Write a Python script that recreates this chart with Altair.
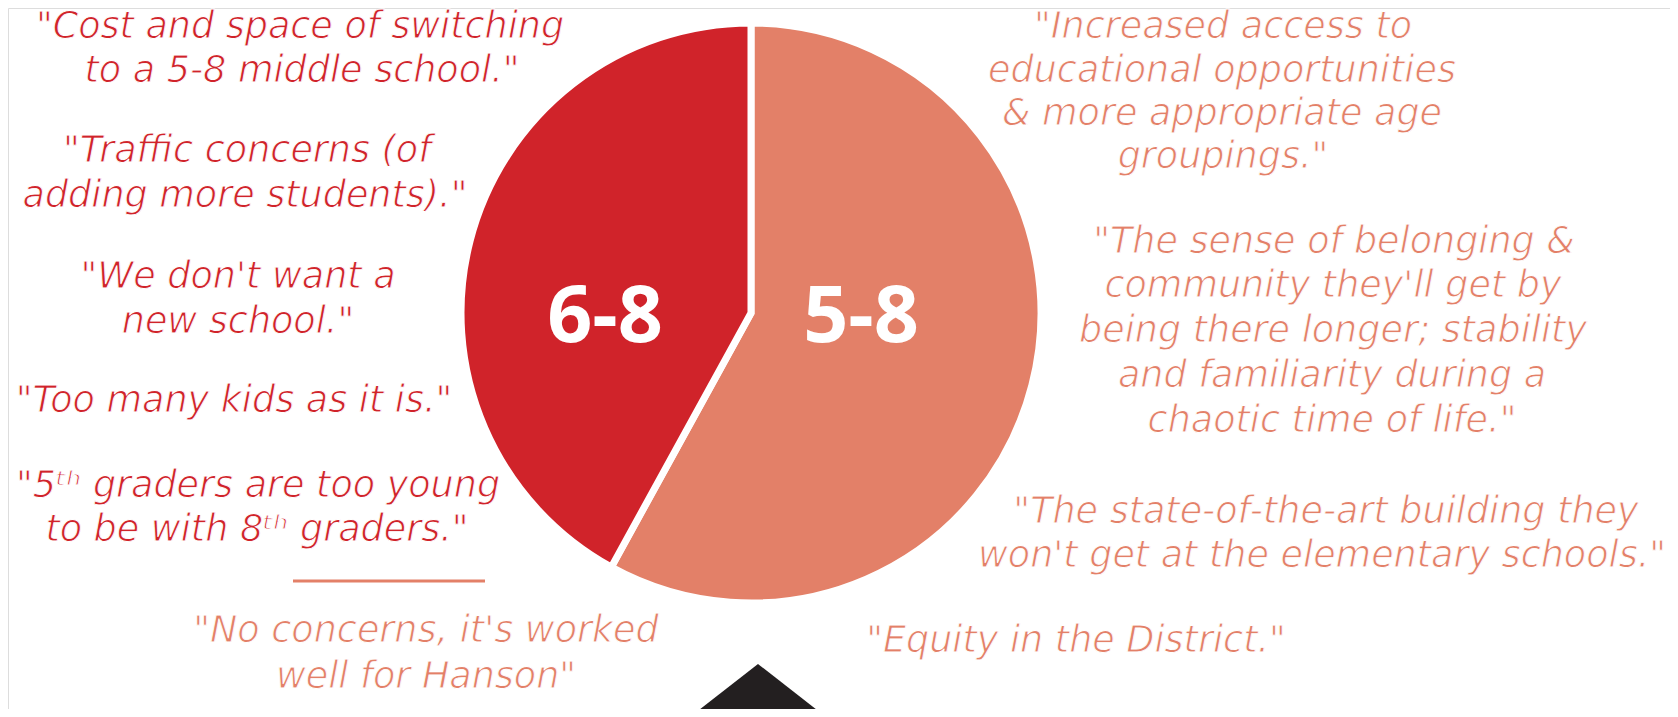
import altair as alt
import pandas as pd

# ---------------- data ----------------
grades = ["5-8", "6-8"]
shares = [58, 42]

quotes_68 = [
    "\"Cost and space of switching",
    "to a 5-8 middle school.\"",
    "\"Traffic concerns (of",
    "adding more students).\"",
    "\"We don't want a",
    "new school.\"",
    "\"Too many kids as it is.\"",
    "\"5\u1d57\u02b0 graders are too young",
    "to be with 8\u1d57\u02b0 graders.\"",
]
quotes_none = [
    "\"No concerns, it's worked",
    "well for Hanson\"",
]
quotes_58 = [
    "\"Increased access to",
    "educational opportunities",
    "& more appropriate age",
    "groupings.\"",
    "\"The sense of belonging &",
    "community they'll get by",
    "being there longer; stability",
    "and familiarity during a",
    "chaotic time of life.\"",
    "\"The state-of-the-art building they",
    "won't get at the elementary schools.\"",
    "\"Equity in the District.\"",
]

# ---------------- layout (page pixel coordinates) ----------------
RED = "#D0232A"
SALMON = "#E38068"
W, H = 1662, 701
PIE_CX, PIE_CY, PIE_R = 751, 313, 290

pos_68 = [(300, 38), (302, 82), (247, 162), (245, 207), (238, 288), (238, 333),
          (234, 412), (258, 497), (257, 541)]
pos_none = [(426, 642), (426, 688)]
pos_58 = [(1223, 38), (1222, 82), (1222, 125), (1223, 168),
          (1334, 253), (1333, 297), (1333, 342), (1332, 387), (1332, 432),
          (1326, 523), (1322, 567), (1076, 652)]
grade_label_pos = [(861, 342), (605, 342)]
divider = dict(x=293, x2=485, y=581)
arrow = dict(xs=[690, 758, 826], ys=[717, 664, 717])

xs = alt.Scale(domain=[8, 8 + W], nice=False, zero=False)
ys = alt.Scale(domain=[8, 8 + H], nice=False, zero=False, reverse=True)

rows = []
for txt, (x, y) in zip(quotes_68, pos_68):
    rows.append(dict(text=txt, x=x, y=y, color=RED))
for txt, (x, y) in zip(quotes_none, pos_none):
    rows.append(dict(text=txt, x=x, y=y, color=SALMON))
for txt, (x, y) in zip(quotes_58, pos_58):
    rows.append(dict(text=txt, x=x, y=y, color=SALMON))
quotes_df = pd.DataFrame(rows)

pie_df = pd.DataFrame({"grade": grades, "share": shares, "idx": list(range(len(grades)))})
lab_df = pd.DataFrame({"grade": grades,
                       "x": [p[0] for p in grade_label_pos],
                       "y": [p[1] for p in grade_label_pos]})

pie = alt.Chart(pie_df).mark_arc(
    radius=PIE_R, stroke="white", strokeWidth=7
).encode(
    theta=alt.Theta("share:Q", stack=True),
    color=alt.Color("grade:N", scale=alt.Scale(domain=grades, range=[SALMON, RED]), legend=None),
    order=alt.Order("idx:Q"),
    x=alt.value(PIE_CX - 8),
    y=alt.value(PIE_CY - 8),
)

grade_labels = alt.Chart(lab_df).mark_text(
    font="Open Sans", fontWeight=700, fontSize=79, color="white",
    align="center", baseline="alphabetic",
).encode(
    x=alt.X("x:Q", scale=xs, axis=None),
    y=alt.Y("y:Q", scale=ys, axis=None),
    text="grade:N",
)

quotes = alt.Chart(quotes_df).mark_text(
    font="DejaVu Sans", fontStyle="italic", fontWeight=300, fontSize=36.5,
    align="center", baseline="alphabetic", stroke="white", strokeWidth=0.9,
).encode(
    x=alt.X("x:Q", scale=xs, axis=None),
    y=alt.Y("y:Q", scale=ys, axis=None),
    text="text:N",
    color=alt.Color("color:N", scale=None),
)

rule = alt.Chart(pd.DataFrame([divider])).mark_rule(color=SALMON, strokeWidth=3).encode(
    x=alt.X("x:Q", scale=xs, axis=None),
    x2="x2:Q",
    y=alt.Y("y:Q", scale=ys, axis=None),
)

tri_df = pd.DataFrame({"x": arrow["xs"], "y": arrow["ys"], "y2": [717, 717, 717]})
tri = alt.Chart(tri_df).mark_area(color="#231F20", interpolate="linear").encode(
    x=alt.X("x:Q", scale=xs, axis=None),
    y=alt.Y("y:Q", scale=ys, axis=None),
    y2="y2:Q",
)

chart = alt.layer(pie, grade_labels, quotes, rule, tri).properties(
    width=W, height=H, padding=0,
    autosize=alt.AutoSizeParams(type="none"),
).configure_view(stroke="white", strokeWidth=0).configure(background="white")

chart.save("out.html", embed_options={"renderer": "svg", "actions": False})
